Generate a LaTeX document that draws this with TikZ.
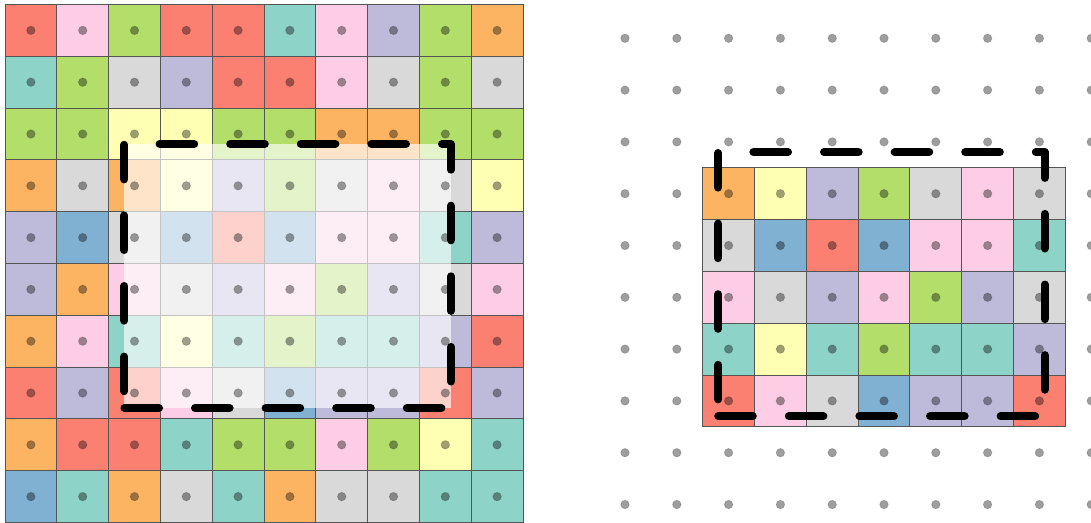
\documentclass[tikz,border=0pt]{standalone}
\definecolor{cT}{HTML}{8DD3C7}
\definecolor{cY}{HTML}{FFFFB3}
\definecolor{cL}{HTML}{BEBADA}
\definecolor{cR}{HTML}{FB8072}
\definecolor{cB}{HTML}{80B1D3}
\definecolor{cO}{HTML}{FDB462}
\definecolor{cG}{HTML}{B3DE69}
\definecolor{cP}{HTML}{FCCDE5}
\definecolor{cX}{HTML}{D9D9D9}
\definecolor{gridline}{HTML}{555555}
\tikzset{
  cellbox/.style={draw=gridline, line width=0.9pt},
  dotmark/.style={fill=black, fill opacity=0.38, draw=black, draw opacity=0.15, line width=0.8pt},
  veil/.style={fill=white, fill opacity=0.65},
  cropline/.style={draw=black, line width=8pt, line cap=round, line join=round, dash pattern=on 34.6pt off 36pt}
}
\begin{document}
\begin{tikzpicture}[x=1pt,y=-1pt]
\useasboundingbox (0,0) rectangle (1091,522);
\clip (0,0) rectangle (1091,522);
\def\s{51.8}
% left grid
\foreach \row [count=\j from 0] in {
  {R,P,G,R,R,T,P,L,G,O},
  {T,G,X,L,R,R,P,X,G,X},
  {G,G,Y,Y,G,G,O,O,G,G},
  {O,X,O,Y,L,G,X,P,X,Y},
  {L,B,X,B,R,B,P,P,T,L},
  {L,O,P,X,L,P,G,L,X,P},
  {O,P,T,Y,T,G,T,T,L,R},
  {R,L,R,P,X,B,L,L,R,L},
  {O,R,R,T,G,G,P,G,Y,T},
  {B,T,O,X,T,O,X,X,T,T}} {
  \foreach \c [count=\i from 0] in \row {
    \path[cellbox, fill=c\c] ({5+\i*\s},{4.5+\j*\s}) rectangle ++(\s,\s);
  }
}
% translucent veil over the crop region
\path[veil] (124.4,144) rectangle (450.9,408);
% left dots
\foreach \i in {0,...,9} {
  \foreach \j in {0,...,9} {
    \path[dotmark] ({5+(\i+0.5)*\s},{4.5+(\j+0.5)*\s}) circle (4.3pt);
  }
}
% left dashed crop
\draw[cropline] (124.4,408) -- (450.9,408) -- (450.9,144) -- (124.4,144) -- cycle;

% right block
\foreach \row [count=\j from 0] in {
  {O,Y,L,G,X,P,X},
  {X,B,R,B,P,P,T},
  {P,X,L,P,G,L,X},
  {T,Y,T,G,T,T,L},
  {R,P,X,B,L,L,R}} {
  \foreach \c [count=\i from 0] in \row {
    \path[cellbox, fill=c\c] ({702.7+\i*\s},{167.8+\j*\s}) rectangle ++(\s,\s);
  }
}
% right dots
\foreach \i in {0,...,9} {
  \foreach \j in {0,...,9} {
    \path[dotmark] ({625+\i*\s},{38.3+\j*\s}) circle (4.3pt);
  }
}
% right dashed crop
\draw[cropline] (718.2,416.2) -- (1044.7,416.2) -- (1044.7,152.2) -- (718.2,152.2) -- cycle;
\end{tikzpicture}
\end{document}
